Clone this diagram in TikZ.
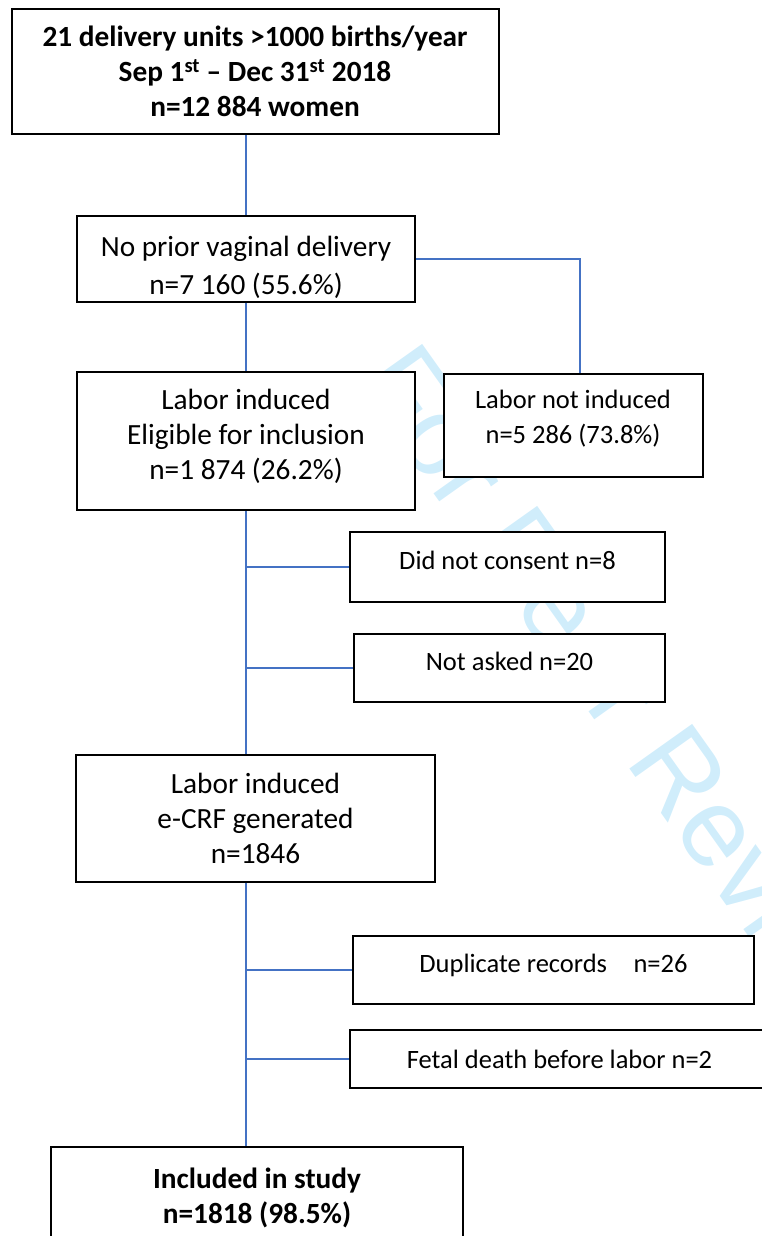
\documentclass[tikz,border=0pt]{standalone}
\usepackage{fontspec}
\setmainfont{Carlito}
\newfontfamily\markfont{Liberation Sans}
\usepackage{xcolor}
\definecolor{linkblue}{HTML}{4472C4}
\definecolor{markcyan}{HTML}{D0EDFB}
\usepackage{tikz}
\usetikzlibrary{positioning, calc}

\begin{document}
\begin{tikzpicture}[
        x=1pt, y=-1pt,
        box/.style={draw=black, line width=2pt, fill=white, rectangle, align=center, inner sep=0pt, font=\fontsize{29.3}{35}\selectfont},
        headbox/.style={box, font=\fontsize{29.3}{35}\selectfont\bfseries},
        side/.style={box, font=\fontsize{26.5}{35}\selectfont},
        raised/.style={text height=18pt, text depth=14pt},
        link/.style={draw=linkblue, line width=1.4pt},
        watermark/.style={text=markcyan, font=\markfont\fontsize{112}{112}\selectfont, rotate=-54.6, anchor=base west, inner sep=0pt}
    ]
        \useasboundingbox (0,0) rectangle (762,1236);
        \clip (0,0) rectangle (762,1236);

        % Review stamp
        \node[watermark] (stamp) at (354,381) {For Peer Review};

        % Main column
        \node[headbox, minimum width=487, minimum height=125] (units) at (255,71.5) {21 delivery units >1000 births/year\\Sep 1\textsuperscript{st} – Dec 31\textsuperscript{st} 2018\\n=12 884 women};
        \node[box, font=\fontsize{29.3}{38}\selectfont, minimum width=338, minimum height=86, text height=77pt, text depth=7pt] (nullip) at (246,259) {No prior vaginal delivery\\n=7 160 (55.6\%)};
        \node[box, minimum width=338, minimum height=138, text depth=13pt] (induced) at (246,441) {Labor induced\\Eligible for inclusion\\n=1 874 (26.2\%)};
        \node[box, minimum width=359, minimum height=127] (ecrf) at (255.5,818.5) {Labor induced\\e-CRF generated\\n=1846};
        \node[headbox, minimum width=412, minimum height=101] (included) at (257,1197.5) {Included in study\\n=1818 (98.5\%)};

        % Side boxes
        \node[side, minimum width=259, minimum height=103, text depth=17pt] (notinduced) at (573,425) {Labor not induced\\n=5 286 (73.8\%)};
        \node[side, raised, minimum width=315, minimum height=70] (consent) at (507.5,567) {Did not consent n=8};
        \node[side, raised, minimum width=311, minimum height=68] (notasked) at (509.5,668) {Not asked n=20};
        \node[side, raised, minimum width=401, minimum height=68] (duplicate) at (553.5,970) {Duplicate records\quad n=26};
        \node[side, minimum width=419, minimum height=58] (fetal) at (559.5,1059) {Fetal death before labor n=2};

        % Flow lines
        \draw[link] (units.south -| nullip.north) -- (nullip.north);
        \draw[link] (nullip.east) -| ([xshift=7pt]notinduced.north);
        \draw[link] (nullip.south) -- (induced.north);
        \draw[link] (induced.south) -- (induced.south |- ecrf.north);
        \draw[link] (consent.west -| induced.south) -- (consent.west);
        \draw[link] (notasked.west -| induced.south) -- (notasked.west);
        \draw[link] (ecrf.south -| induced.south) -- (included.north -| induced.south);
        \draw[link] (duplicate.west -| induced.south) -- (duplicate.west);
        \draw[link] (fetal.west -| induced.south) -- (fetal.west);
\end{tikzpicture}
\end{document}
